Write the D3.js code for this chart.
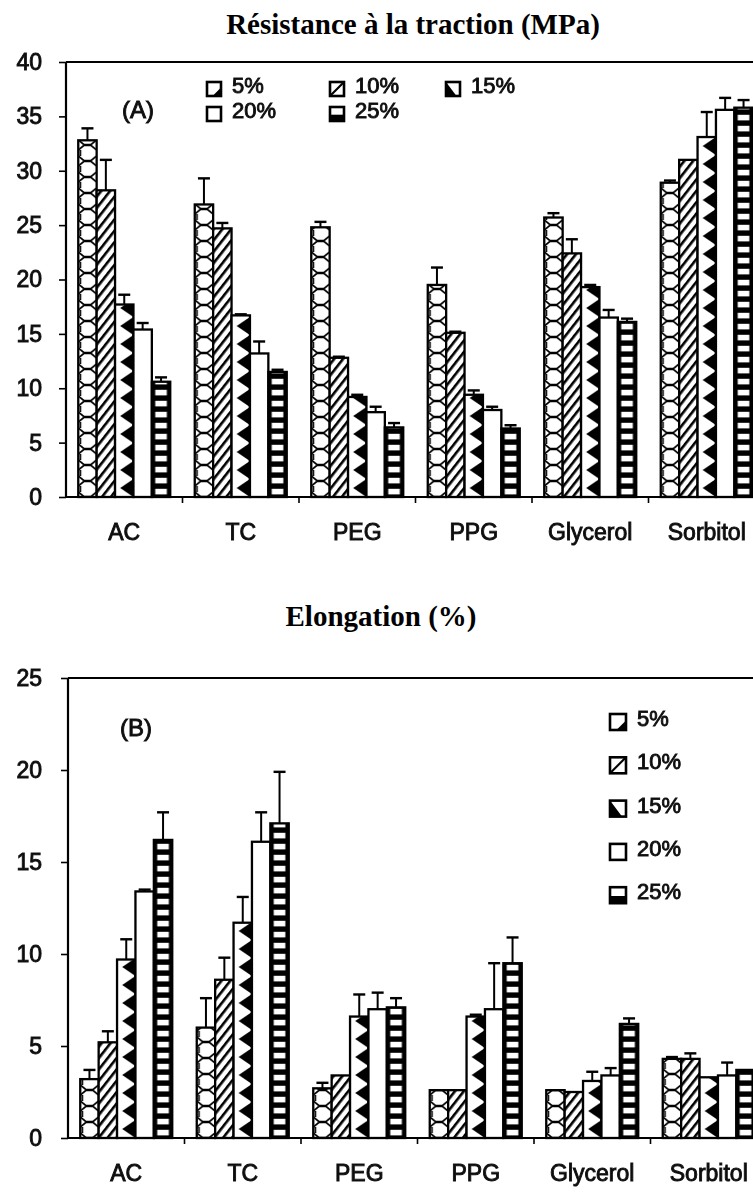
<!DOCTYPE html>
<html>
<head>
<meta charset="utf-8">
<script src="https://cdn.jsdelivr.net/npm/d3@7"></script>
<style>
  html, body { margin: 0; padding: 0; background: #fff; }
  svg { display: block; }
  .tick text, .lbl { font-family: "Liberation Sans", Arial, sans-serif; fill: #111; stroke: #111; stroke-width: 0.9px; }
  .title { font-family: "Liberation Serif", "Times New Roman", serif; font-weight: bold; fill: #000; }
</style>
</head>
<body>
<script>
// Plasticizer types and concentrations
const categories = ["AC", "TC", "PEG", "PPG", "Glycerol", "Sorbitol"];
const series = ["5%", "10%", "15%", "20%", "25%"];

// Tensile strength (MPa), one array per plasticizer concentration
const tensile5  = [32.8, 26.9, 24.8, 19.5, 25.7, 28.9];
const tensile10 = [28.2, 24.7, 12.8, 15.1, 22.4, 31.0];
const tensile15 = [17.7, 16.7, 9.2, 9.4, 19.3, 33.1];
const tensile20 = [15.4, 13.2, 7.8, 8.0, 16.5, 35.6];
const tensile25 = [10.6, 11.5, 6.4, 6.3, 16.1, 35.8];
// Standard deviations for tensile strength
const tensileSd5  = [1.1, 2.4, 0.5, 1.6, 0.4, 0.2];
const tensileSd10 = [2.8, 0.5, 0.1, 0.1, 1.3, 0.0];
const tensileSd15 = [0.9, 0.1, 0.2, 0.4, 0.2, 2.3];
const tensileSd20 = [0.6, 1.1, 0.5, 0.3, 0.7, 1.1];
const tensileSd25 = [0.4, 0.2, 0.4, 0.3, 0.3, 0.7];

// Elongation at break (%)
const elong5  = [3.2, 6.0, 2.7, 2.6, 2.6, 4.3];
const elong10 = [5.2, 8.6, 3.4, 2.6, 2.5, 4.3];
const elong15 = [9.7, 11.7, 6.6, 6.6, 3.1, 3.3];
const elong20 = [13.4, 16.1, 7.0, 7.0, 3.4, 3.4];
const elong25 = [16.2, 17.1, 7.1, 9.5, 6.2, 3.7];
// Standard deviations for elongation
const elongSd5  = [0.5, 1.6, 0.3, 0.0, 0.0, 0.1];
const elongSd10 = [0.6, 1.2, 0.0, 0.0, 0.0, 0.3];
const elongSd15 = [1.1, 1.4, 1.2, 0.1, 0.5, 0.0];
const elongSd20 = [0.1, 1.6, 0.9, 2.5, 0.4, 0.7];
const elongSd25 = [1.5, 2.8, 0.5, 1.4, 0.3, 0.0];

// Axis tick values
const tensileTicks = [0, 5, 10, 15, 20, 25, 30, 35, 40];
const elongTicks = [0, 5, 10, 15, 20, 25];

const W = 753, H = 1194;
const svg = d3.select("body").append("svg").attr("width", W).attr("height", H);
const defs = svg.append("defs");

// soft scan-like edge
defs.append("filter").attr("id", "soft")
  .append("feGaussianBlur").attr("stdDeviation", 0.45);

// shared diagonal hatching for the 10% bars
const stripe = defs.append("pattern").attr("id", "stripe")
  .attr("patternUnits", "userSpaceOnUse").attr("width", 7).attr("height", 10)
  .attr("patternTransform", "rotate(38)");
stripe.append("rect").attr("width", 7).attr("height", 10).attr("fill", "#fff");
stripe.append("rect").attr("width", 2.6).attr("height", 10).attr("fill", "#000");

function makeBarPattern(id, s, x, y0, w) {
  if (s === 1) return "url(#stripe)";
  if (s === 3) return "#fff";
  let h = s === 0 ? 16 : s === 2 ? 18 : 11;
  const p = defs.append("pattern").attr("id", id)
    .attr("patternUnits", "userSpaceOnUse")
    .attr("x", x).attr("y", y0).attr("width", w).attr("height", h);
  if (s === 0) {
    p.append("rect").attr("width", w).attr("height", h).attr("fill", "#fff");
    p.append("path")
      .attr("d", `M0,5 L${w * 0.3},0.5 L${w * 0.7},0.5 L${w},5 M0,11 L${w * 0.3},15.5 L${w * 0.7},15.5 L${w},11 M${w * 0.12},5 L${w * 0.12},11`)
      .attr("fill", "none").attr("stroke", "#000").attr("stroke-width", 1.7);
  } else if (s === 2) {
    p.append("rect").attr("width", w).attr("height", h).attr("fill", "#fff");
    p.append("polygon")
      .attr("points", `${w * 0.28},9 ${w},0 ${w},18`).attr("fill", "#000");
  } else if (s === 4) {
    p.append("rect").attr("width", w).attr("height", h).attr("fill", "#000");
    p.append("rect").attr("x", 3.4).attr("y", 2.8).attr("width", w - 6.8).attr("height", 5.6).attr("fill", "#fff");
  }
  return `url(#${id})`;
}

function legendIcon(g, s, size) {
  g.append("rect").attr("width", size).attr("height", size)
    .attr("fill", "#fff").attr("stroke", "#000").attr("stroke-width", 2.6);
  if (s === 0) {
    g.append("polygon").attr("points", `${size},${size * 0.4} ${size},${size} ${size * 0.4},${size}`).attr("fill", "#000");
  } else if (s === 1) {
    g.append("line").attr("x1", 0).attr("y1", size).attr("x2", size).attr("y2", 0)
      .attr("stroke", "#000").attr("stroke-width", 2.2);
  } else if (s === 2) {
    g.append("polygon").attr("points", `0,0 0,${size} ${size * 0.75},${size}`).attr("fill", "#000");
  } else if (s === 4) {
    g.append("rect").attr("x", 0).attr("y", size * 0.55).attr("width", size).attr("height", size * 0.45).attr("fill", "#000");
  }
}

function drawChart(cfg) {
  const { key, axisX, yTop, yBottom, yMax, ticks, values, sds, tickPad } = cfg;
  const y = d3.scaleLinear().domain([0, yMax]).range([yBottom, yTop]);
  const x0 = d3.scaleBand().domain(categories).range([axisX, axisX + 6 * 116.5]);
  const x1 = d3.scaleBand().domain(series).range([0, x0.bandwidth()])
    .paddingInner(0).paddingOuter(0.666);

  const g = svg.append("g").attr("filter", "url(#soft)");

  // frame: left axis, top border, baseline
  g.append("line").attr("x1", axisX).attr("x2", axisX).attr("y1", yTop).attr("y2", yBottom)
    .attr("stroke", "#000").attr("stroke-width", 2.2);
  g.append("line").attr("x1", axisX).attr("x2", W).attr("y1", yTop).attr("y2", yTop)
    .attr("stroke", "#000").attr("stroke-width", 2.2);
  g.append("line").attr("x1", axisX).attr("x2", W).attr("y1", yBottom).attr("y2", yBottom)
    .attr("stroke", "#000").attr("stroke-width", 2.2);

  // y axis
  const ya = g.append("g").attr("transform", `translate(${axisX},0)`)
    .call(d3.axisLeft(y).tickValues(ticks).tickSize(7).tickPadding(tickPad));
  ya.select(".domain").remove();
  ya.selectAll(".tick line").attr("stroke", "#000").attr("stroke-width", 1.6);
  ya.selectAll(".tick text").style("font-size", "23px");

  // x axis: category names, with ticks between groups
  const xa = g.append("g").attr("transform", `translate(0,${yBottom})`)
    .call(d3.axisBottom(x0).tickSize(0).tickPadding(27));
  xa.select(".domain").remove();
  xa.selectAll(".tick text").style("font-size", "23px");
  g.selectAll(".sep").data(categories.slice(1)).join("line")
    .attr("x1", d => x0(d)).attr("x2", d => x0(d))
    .attr("y1", yBottom).attr("y2", yBottom + 6)
    .attr("stroke", "#000").attr("stroke-width", 1.6);

  // bars
  const rows = [];
  categories.forEach((c, i) => series.forEach((s, j) => {
    rows.push({ c, i, s, j, v: values[j][i], sd: sds[j][i] });
  }));
  const bw = x1.bandwidth();
  g.selectAll(".bar").data(rows).join("rect")
    .attr("x", d => x0(d.c) + x1(d.s))
    .attr("y", d => y(d.v))
    .attr("width", bw)
    .attr("height", d => y(0) - y(d.v))
    .attr("fill", d => makeBarPattern(`${key}-${d.i}-${d.j}`, d.j, x0(d.c) + x1(d.s), y(0), bw))
    .attr("stroke", "#000").attr("stroke-width", 2.3);

  // error bars
  const eb = g.selectAll(".err").data(rows.filter(d => d.sd > 0)).join("g");
  eb.append("line")
    .attr("x1", d => x0(d.c) + x1(d.s) + bw / 2).attr("x2", d => x0(d.c) + x1(d.s) + bw / 2)
    .attr("y1", d => y(d.v)).attr("y2", d => y(d.v + d.sd))
    .attr("stroke", "#000").attr("stroke-width", 2);
  eb.append("line")
    .attr("x1", d => x0(d.c) + x1(d.s) + bw / 2 - 6).attr("x2", d => x0(d.c) + x1(d.s) + bw / 2 + 6)
    .attr("y1", d => y(d.v + d.sd)).attr("y2", d => y(d.v + d.sd))
    .attr("stroke", "#000").attr("stroke-width", 2.4);

  return g;
}

// Panel A: tensile strength
svg.append("text").attr("class", "title").attr("x", 413).attr("y", 34)
  .attr("text-anchor", "middle").style("font-size", "29px")
  .text("Résistance à la traction (MPa)");

const gA = drawChart({
  key: "a", axisX: 66, yTop: 62, yBottom: 497, yMax: 40, ticks: tensileTicks, tickPad: 17,
  values: [tensile5, tensile10, tensile15, tensile20, tensile25],
  sds: [tensileSd5, tensileSd10, tensileSd15, tensileSd20, tensileSd25]
});
gA.append("text").attr("class", "lbl").attr("x", 122).attr("y", 118)
  .style("font-size", "24px").text("(A)");
const legA = [[207, 82], [330, 82], [446, 82], [207, 107], [330, 107]];
series.forEach((s, j) => {
  const lg = gA.append("g").attr("transform", `translate(${legA[j][0]},${legA[j][1]})`);
  legendIcon(lg, j, 14);
  lg.append("text").attr("class", "lbl").attr("x", 25).attr("y", 11)
    .style("font-size", "22px").text(s);
});

// Panel B: elongation
svg.append("text").attr("class", "title").attr("x", 381).attr("y", 626)
  .attr("text-anchor", "middle").style("font-size", "29px")
  .text("Elongation (%)");

const gB = drawChart({
  key: "b", axisX: 68, yTop: 678, yBottom: 1138, yMax: 25, ticks: elongTicks, tickPad: 19,
  values: [elong5, elong10, elong15, elong20, elong25],
  sds: [elongSd5, elongSd10, elongSd15, elongSd20, elongSd25]
});
gB.append("text").attr("class", "lbl").attr("x", 120).attr("y", 736)
  .style("font-size", "24px").text("(B)");
series.forEach((s, j) => {
  const lg = gB.append("g").attr("transform", `translate(610,${714 + j * 43.3})`);
  legendIcon(lg, j, 16);
  lg.append("text").attr("class", "lbl").attr("x", 27).attr("y", 12)
    .style("font-size", "22px").text(s);
});
</script>
</body>
</html>
